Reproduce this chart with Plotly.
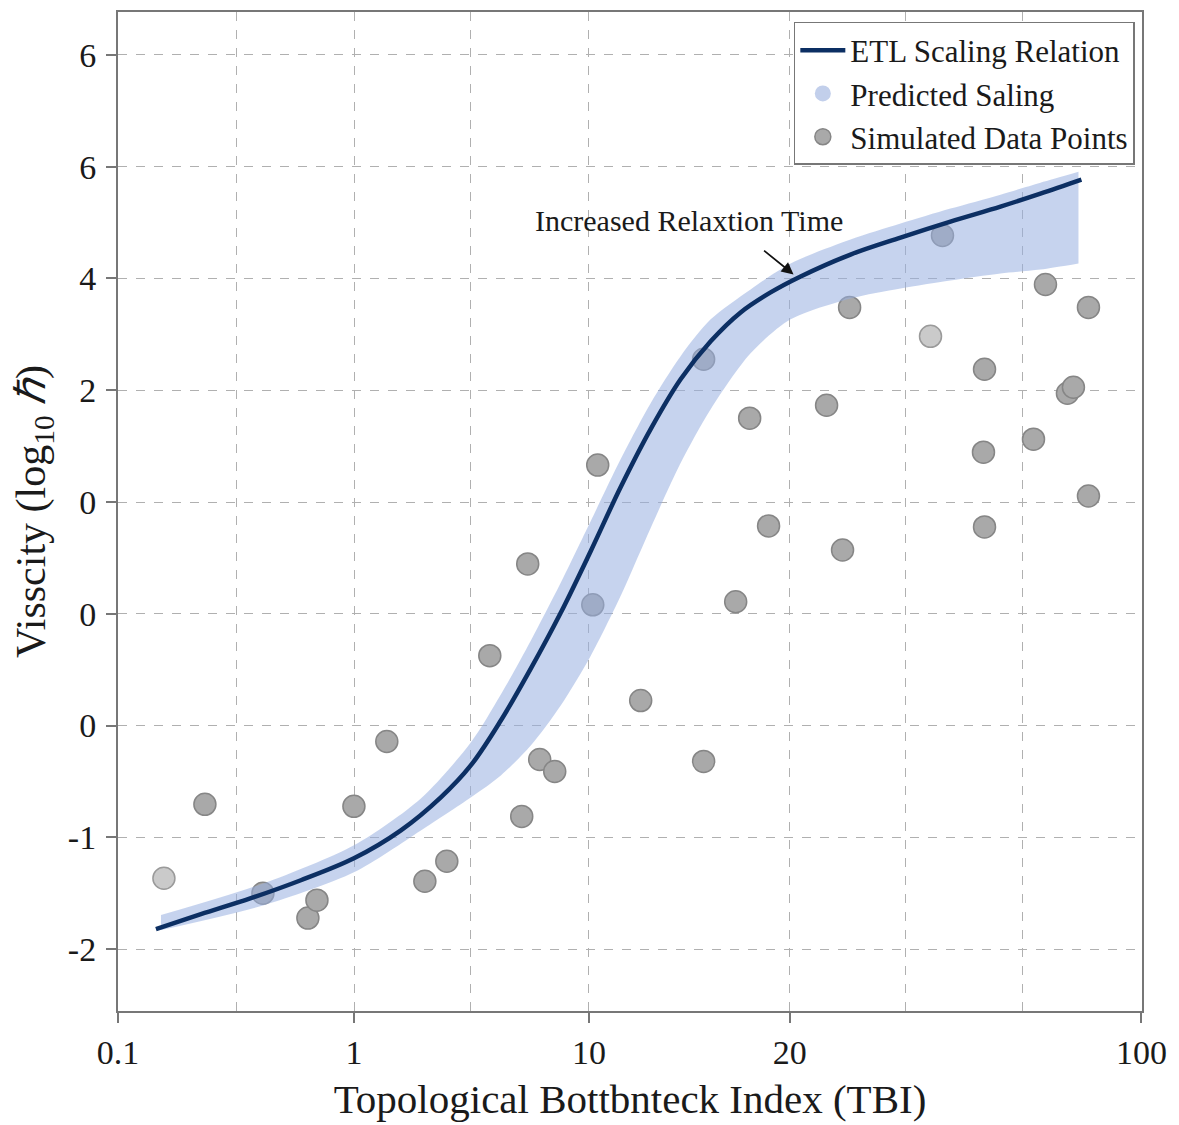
import plotly.graph_objects as go

# ---------------- data (axis units) ----------------
# x axis: custom index scale, tick labels below
x_tick_vals = [0.0, 2.01, 4.01, 5.72, 8.715]
x_tick_text = ["0.1", "1", "10", "20", "100"]
x_minor_vals = [1.01, 3.0, 6.71, 7.70]

y_tick_vals = [-2, -1, 0, 1, 2, 3, 4, 5, 6]
y_tick_text = ["-2", "-1", "0", "0", "0", "2", "4", "6", "6"]

# ETL scaling relation curve
curve_x = [0.323, 0.706, 1.132, 1.557, 2.009, 2.409, 2.749, 3.004, 3.260, 3.515, 3.770,
           4.026, 4.281, 4.536, 4.791, 5.047, 5.302, 5.557, 5.813, 6.238, 6.664, 7.089,
           7.515, 7.855, 8.204]
curve_y = [-1.821, -1.688, -1.545, -1.384, -1.188, -0.938, -0.643, -0.357, 0.045, 0.509,
           1.009, 1.562, 2.134, 2.652, 3.098, 3.4375, 3.696, 3.875, 4.018, 4.214, 4.366,
           4.509, 4.643, 4.759, 4.884]

# Predicted scaling band
band_x = [0.366, 1.243, 2.009, 2.579, 3.004, 3.260, 3.515, 3.770, 4.026, 4.281, 4.536,
          4.791, 5.047, 5.387, 5.728, 6.238, 6.664, 7.089, 7.515, 7.855, 8.179]
band_upper = [-1.696, -1.411, -1.071, -0.652, -0.152, 0.277, 0.759, 1.277, 1.830, 2.384,
              2.884, 3.304, 3.634, 3.902, 4.134, 4.348, 4.491, 4.625, 4.750, 4.857, 4.955]
band_lower = [-1.830, -1.607, -1.313, -0.938, -0.643, -0.446, -0.179, 0.179, 0.625, 1.161,
              1.768, 2.348, 2.830, 3.330, 3.634, 3.821, 3.911, 3.982, 4.045, 4.080, 4.134]

# Simulated data points
pts_x = [0.740, 1.234, 1.617, 1.694, 2.009, 2.289, 2.613, 2.800, 3.166, 3.438, 3.489,
         3.591, 3.719, 4.043, 4.085, 4.451, 4.987, 4.987, 5.260, 5.379, 5.540, 6.034,
         6.170, 6.230, 7.021, 7.370, 7.379, 7.379, 7.796, 7.898, 8.085, 8.136, 8.264,
         8.264]
pts_y = [-0.705, -1.500, -1.723, -1.5625, -0.723, -0.143, -1.393, -1.214, 0.625, -0.813,
         1.446, -0.304, -0.411, 1.080, 2.330, 0.223, 3.277, -0.321, 1.107, 2.750, 1.786,
         2.866, 1.571, 3.741, 4.384, 2.446, 3.1875, 1.777, 2.5625, 3.946, 2.973, 3.027,
         3.741, 2.054]
faint_x = [0.391, 6.919]
faint_y = [-1.366, 3.482]

annot_tip = (5.753, 4.036)
annot_text_pos = (4.86, 4.518)

FONT = "Liberation Serif"
NAVY = "#0c2f63"
TXT = "#1a1a1a"

fig = go.Figure()

fig.add_trace(go.Scatter(
    x=pts_x, y=pts_y, mode="markers", name="Simulated Data Points", legendrank=3,
    marker=dict(size=22, color="#a9a9a9", line=dict(color="#868686", width=1.5)),
))
fig.add_trace(go.Scatter(
    x=faint_x, y=faint_y, mode="markers", showlegend=False,
    marker=dict(size=22, color="#cacaca", line=dict(color="#9a9a9a", width=1.5)),
))

fig.add_trace(go.Scatter(
    x=band_x, y=band_lower, mode="lines", line=dict(width=0, shape="spline", smoothing=0.8),
    showlegend=False, hoverinfo="skip",
))
fig.add_trace(go.Scatter(
    x=band_x, y=band_upper, mode="lines", line=dict(width=0, shape="spline", smoothing=0.8),
    fill="tonexty", fillcolor="rgba(151,175,224,0.55)",
    showlegend=False, hoverinfo="skip",
))

fig.add_trace(go.Scatter(
    x=curve_x, y=curve_y, mode="lines", name="ETL Scaling Relation", legendrank=1,
    line=dict(color=NAVY, width=4.5, shape="spline", smoothing=1.0),
))
fig.add_trace(go.Scatter(
    x=[None], y=[None], mode="markers", name="Predicted Saling", legendrank=2,
    marker=dict(size=20, color="#c2cfeb"),
))

fig.add_annotation(
    x=annot_text_pos[0], y=annot_text_pos[1], text="Increased Relaxtion Time",
    showarrow=False, font=dict(family=FONT, size=30, color=TXT),
)
fig.add_annotation(
    x=annot_tip[0], y=annot_tip[1], text="", showarrow=True,
    ax=-31, ay=-25, arrowhead=2, arrowsize=1.4, arrowwidth=1.7, arrowcolor="#111",
)

axis_common = dict(
    showline=True, linecolor="#777777", linewidth=2, mirror=True,
    gridcolor="#b0b0b0", gridwidth=1, griddash="dash",
    ticks="outside", ticklen=10, tickwidth=1.5, tickcolor="#777777",
    tickfont=dict(family=FONT, size=34, color=TXT),
    zeroline=False,
)

fig.update_layout(
    width=1179, height=1125,
    margin=dict(l=110, r=45, t=2, b=122),
    paper_bgcolor="white", plot_bgcolor="white",
    showlegend=True,
    legend=dict(
        x=0.993, y=0.99, xanchor="right", yanchor="top", traceorder="normal",
        bgcolor="white", bordercolor="#777777", borderwidth=1.5,
        font=dict(family=FONT, size=31, color=TXT),
        itemwidth=45,
    ),
    xaxis=dict(
        range=[0, 8.72], tickmode="array", tickvals=x_tick_vals, ticktext=x_tick_text,
        minor=dict(tickmode="array", tickvals=x_minor_vals, showgrid=True,
                   gridcolor="#b0b0b0", griddash="dash", gridwidth=1, ticks=""),
        title=dict(text="Topological Bottbnteck Index (TBI)",
                   font=dict(family=FONT, size=41, color=TXT), standoff=15),
        **axis_common,
    ),
    yaxis=dict(
        range=[-2.554, 6.384], tickmode="array", tickvals=y_tick_vals, ticktext=y_tick_text,
        ticklabelstandoff=3,
        title=dict(text="Visscity (log<sub>10</sub> <i>ℏ</i>)",
                   font=dict(family=FONT, size=42, color=TXT), standoff=10),
        **axis_common,
    ),
)

fig.write_html("out.html")
